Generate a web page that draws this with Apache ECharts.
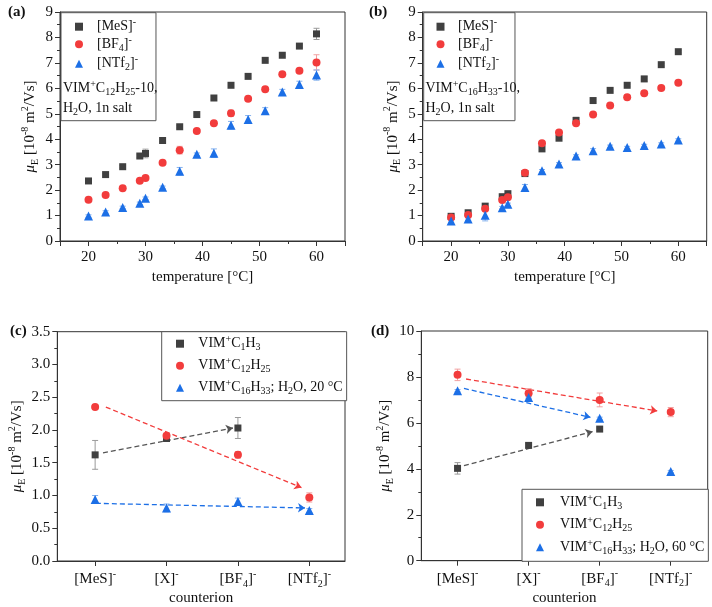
<!DOCTYPE html>
<html><head><meta charset="utf-8">
<script src="https://cdn.jsdelivr.net/npm/echarts@6/dist/echarts.min.js"></script>
<style>html,body{margin:0;padding:0;background:#fff}#c{width:712px;height:607px}</style>
</head><body><div id="c"></div>
<script>
// ---------- data ----------
const temps = [20,23,26,29,30,33,36,39,42,45,48,51,54,57,60];
// panel (a): VIM+C12H25-10
const aMeS  = [2.36,2.61,2.92,3.34,3.44,3.95,4.49,4.97,5.62,6.12,6.47,7.10,7.30,7.66,8.14];
const aBF4  = [1.62,1.81,2.07,2.37,2.48,3.08,3.57,4.32,4.63,5.02,5.59,5.96,6.55,6.69,7.02];
const aNTf2 = [0.98,1.14,1.32,1.48,1.68,2.11,2.74,3.41,3.45,4.55,4.78,5.12,5.86,6.15,6.52];
const aMeSErr  = [0.05,0.05,0.05,0.05,0.17,0.05,0.05,0.05,0.05,0.05,0.05,0.05,0.05,0.05,0.22];
const aBF4Err  = [0.05,0.05,0.05,0.05,0.05,0.05,0.15,0.05,0.05,0.12,0.05,0.05,0.05,0.05,0.30];
const aNTf2Err = [0.05,0.05,0.05,0.05,0.05,0.05,0.15,0.05,0.17,0.15,0.15,0.12,0.10,0.13,0.20];
// panel (b): VIM+C16H33-10
const bMeS  = [0.97,1.11,1.37,1.74,1.86,2.65,3.62,4.04,4.74,5.52,5.92,6.12,6.37,6.93,7.44];
const bBF4  = [0.92,1.02,1.27,1.61,1.72,2.68,3.84,4.26,4.63,4.97,5.33,5.65,5.81,6.01,6.22];
const bNTf2 = [0.79,0.86,1.01,1.31,1.44,2.10,2.76,3.03,3.34,3.55,3.72,3.67,3.75,3.81,3.97];
const bMeSErr  = [0.05,0.06,0.10,0.10,0.05,0.05,0.10,0.05,0.12,0.05,0.05,0.05,0.10,0.05,0.05];
const bBF4Err  = [0.05,0.05,0.05,0.05,0.05,0.08,0.05,0.05,0.05,0.05,0.05,0.05,0.05,0.05,0.05];
const bNTf2Err = [0.05,0.05,0.22,0.05,0.05,0.12,0.05,0.05,0.05,0.08,0.05,0.05,0.05,0.05,0.05];
// panels (c),(d): counterions
const counterions = ['[MeS]', '[X]', '[BF4]', '[NTf2]'];
const counterionPos = [0,1,2,3];
const cC1  = [1.62,1.87,2.03,null];
const cC12 = [2.35,1.91,1.62,0.97];
const cC16 = [0.94,0.81,0.91,0.77];
const cC1Err  = [0.22,0.04,0.16,null];
const cC12Err = [0.03,0.04,0.05,0.07];
const cC16Err = [0.06,0.06,0.05,0.03];
const dC1  = [4.02,5.02,5.73,null];
const dC12 = [8.09,7.29,7.00,6.47];
const dC16 = [7.40,7.10,6.20,3.88];
const dC1Err  = [0.25,0.08,0.05,null];
const dC12Err = [0.25,0.20,0.30,0.20];
const dC16Err = [0.05,0.05,0.05,0.05];
// dashed trend arrows (start, end)
const cTrendC1  = [[0.11,1.65],[1.93,2.03]];
const cTrendC12 = [[0.15,2.35],[2.89,1.12]];
const cTrendC16 = [[0.01,0.88],[2.94,0.81]];
const dTrendC1  = [[0.09,4.14],[1.90,5.62]];
const dTrendC12 = [[0.12,7.91],[2.81,6.52]];
const dTrendC16 = [[0.09,7.50],[1.87,6.24]];

// ---------- style ----------
const FONT = 'Liberation Serif';
const TXT = '#111';
const GRAY = '#404040', RED = '#f23c3c', BLUE = '#1c6fe6';
const EGRAY = '#9a9a9a', ERED = '#f2a0a0', EBLUE = '#86b2ee';
const AX = '#333';

function makeRich(size, spacer) {
  const lh = Math.round(size * 1.3);
  return {
    n:   {fontFamily: FONT, fontSize: size, lineHeight: lh, color: TXT},
    it:  {fontFamily: FONT, fontSize: size, lineHeight: lh, color: TXT, fontStyle: 'italic'},
    sup: {fontFamily: FONT, fontSize: Math.round(size*0.68), lineHeight: Math.round(size*0.68), verticalAlign: 'top', color: TXT},
    sub: {fontFamily: FONT, fontSize: Math.round(size*0.68), lineHeight: Math.round(size*0.68), verticalAlign: 'bottom', color: TXT},
    sp:  {fontFamily: FONT, fontSize: size, lineHeight: lh, width: spacer || 0}
  };
}
const rich14 = makeRich(14), rich15 = makeRich(15);

const yName = '{it|μ}{sub|E}{n| [10}{sup|-8}{n| m}{sup|2}{n|/Vs]}';
const catRich = ['{n|[MeS]}{sup|-}', '{n|[X]}{sup|-}', '{n|[BF}{sub|4}{n|]}{sup|-}', '{n|[NTf}{sub|2}{n|]}{sup|-}'];

const grids = [
  {left: 60,    top: 12,    width: 285,   height: 229},
  {left: 422.7, top: 12,    width: 284,   height: 229},
  {left: 57.3,  top: 331.7, width: 287.7, height: 230},
  {left: 421.3, top: 331,   width: 286.4, height: 229.7}
].map(g => Object.assign(g, {show: true, borderColor: AX, borderWidth: 1, backgroundColor: 'transparent'}));

const baseAxis = {
  axisLine: {show: true, onZero: false, lineStyle: {color: AX, width: 1}},
  axisTick: {show: true, inside: false, length: 5, lineStyle: {color: AX}},
  minorTick: {show: true, splitNumber: 2, length: 3, lineStyle: {color: AX}},
  splitLine: {show: false},
  minorSplitLine: {show: false},
  axisLabel: {fontFamily: FONT, fontSize: 15, color: TXT, margin: 7},
  nameTextStyle: {fontFamily: FONT, fontSize: 15, color: TXT, rich: rich15}
};
function ax(extra) { return Object.assign(JSON.parse(JSON.stringify(baseAxis)), extra); }

const xAxes = [
  ax({type: 'value', gridIndex: 0, min: 15, max: 65, splitNumber: 5, name: 'temperature [°C]', nameLocation: 'middle', nameGap: 29,
      axisLabel: {fontFamily: FONT, fontSize: 15, color: TXT, margin: 9, showMinLabel: false, showMaxLabel: false}}),
  ax({type: 'value', gridIndex: 1, min: 15, max: 65, splitNumber: 5, name: 'temperature [°C]', nameLocation: 'middle', nameGap: 29,
      axisLabel: {fontFamily: FONT, fontSize: 15, color: TXT, margin: 9, showMinLabel: false, showMaxLabel: false}}),
  ax({type: 'value', gridIndex: 2, min: -0.53, max: 3.5, name: 'counterion', nameLocation: 'middle', nameGap: 30,
      axisTick: {show: true, length: 5, lineStyle: {color: AX}, customValues: counterionPos},
      minorTick: {show: false},
      axisLabel: {fontFamily: FONT, fontSize: 15, color: TXT, margin: 8, rich: rich15, customValues: counterionPos,
                  formatter: v => catRich[Math.round(v)]}}),
  ax({type: 'value', gridIndex: 3, min: -0.51, max: 3.52, name: 'counterion', nameLocation: 'middle', nameGap: 30,
      axisTick: {show: true, length: 5, lineStyle: {color: AX}, customValues: counterionPos},
      minorTick: {show: false},
      axisLabel: {fontFamily: FONT, fontSize: 15, color: TXT, margin: 8, rich: rich15, customValues: counterionPos,
                  formatter: v => catRich[Math.round(v)]}})
];
const yAxes = [
  ax({type: 'value', gridIndex: 0, min: 0, max: 9, interval: 1, name: yName, nameLocation: 'middle', nameRotate: 90, nameGap: 20}),
  ax({type: 'value', gridIndex: 1, min: 0, max: 9, interval: 1, name: yName, nameLocation: 'middle', nameRotate: 90, nameGap: 20}),
  ax({type: 'value', gridIndex: 2, min: 0, max: 3.5, interval: 0.5, name: yName, nameLocation: 'middle', nameRotate: 90, nameGap: 30,
      axisLabel: {fontFamily: FONT, fontSize: 15, color: TXT, margin: 7, formatter: v => v.toFixed(1)}}),
  ax({type: 'value', gridIndex: 3, min: 0, max: 10, interval: 2, name: yName, nameLocation: 'middle', nameRotate: 90, nameGap: 23})
];

function errRender(params, api) {
  const x = api.value(0), lo = api.value(1), hi = api.value(2);
  const p1 = api.coord([x, lo]), p2 = api.coord([x, hi]);
  const w = 3;
  const style = {stroke: api.visual('color'), lineWidth: 1};
  return {type: 'group', children: [
    {type: 'line', shape: {x1: p1[0], y1: p1[1], x2: p2[0], y2: p2[1]}, style},
    {type: 'line', shape: {x1: p1[0]-w, y1: p1[1], x2: p1[0]+w, y2: p1[1]}, style},
    {type: 'line', shape: {x1: p2[0]-w, y1: p2[1], x2: p2[0]+w, y2: p2[1]}, style}
  ]};
}
function pairs(xs, ys) { const r = []; xs.forEach((x, i) => { if (ys[i] != null) r.push([x, ys[i]]); }); return r; }
function errs(xs, ys, es) { const r = []; xs.forEach((x, i) => { if (ys[i] != null && es[i] != null) r.push([x, ys[i]-es[i], ys[i]+es[i]]); }); return r; }

const series = [];
const symbolDefs = {
  sq:  {symbol: 'rect', symbolSize: 7, color: GRAY, ecolor: EGRAY},
  ci:  {symbol: 'circle', symbolSize: 8, color: RED, ecolor: ERED},
  tr:  {symbol: 'triangle', symbolSize: 9, color: BLUE, ecolor: EBLUE}
};
function addPanel(idx, xs, sets) {
  sets.forEach(s => {
    const d = symbolDefs[s.kind];
    series.push({type: 'custom', name: 'err' + idx + s.name, xAxisIndex: idx, yAxisIndex: idx, renderItem: errRender,
      itemStyle: {color: d.ecolor}, encode: {x: 0, y: [1, 2]}, data: errs(xs, s.v, s.e), z: 2, silent: true});
  });
  sets.forEach(s => {
    const d = symbolDefs[s.kind];
    series.push({type: 'scatter', name: s.name, xAxisIndex: idx, yAxisIndex: idx, symbol: d.symbol, symbolSize: d.symbolSize,
      itemStyle: {color: d.color, opacity: 1}, data: pairs(xs, s.v), z: 3});
  });
}
addPanel(0, temps, [{name: 'MeS', kind: 'sq', v: aMeS, e: aMeSErr}, {name: 'BF4', kind: 'ci', v: aBF4, e: aBF4Err}, {name: 'NTf2', kind: 'tr', v: aNTf2, e: aNTf2Err}]);
addPanel(1, temps, [{name: 'MeS', kind: 'sq', v: bMeS, e: bMeSErr}, {name: 'BF4', kind: 'ci', v: bBF4, e: bBF4Err}, {name: 'NTf2', kind: 'tr', v: bNTf2, e: bNTf2Err}]);
addPanel(2, counterionPos, [{name: 'C1', kind: 'sq', v: cC1, e: cC1Err}, {name: 'C12', kind: 'ci', v: cC12, e: cC12Err}, {name: 'C16', kind: 'tr', v: cC16, e: cC16Err}]);
addPanel(3, counterionPos, [{name: 'C1', kind: 'sq', v: dC1, e: dC1Err}, {name: 'C12', kind: 'ci', v: dC12, e: dC12Err}, {name: 'C16', kind: 'tr', v: dC16, e: dC16Err}]);

function trend(idx, coords, color) {
  series.push({type: 'lines', name: 'trend' + idx + color, coordinateSystem: 'cartesian2d', xAxisIndex: idx, yAxisIndex: idx,
    symbol: ['none', 'arrow'], symbolSize: 7, silent: true, z: 1,
    lineStyle: {color: color, width: 1.3, type: [5, 3], opacity: 1},
    data: [{coords: coords}]});
}
trend(2, cTrendC1, '#555555'); trend(2, cTrendC12, RED); trend(2, cTrendC16, BLUE);
trend(3, dTrendC1, '#555555'); trend(3, dTrendC12, RED); trend(3, dTrendC16, BLUE);

const anionLabel = {MeS: '{sp| }{n|[MeS]}{sup|-}', BF4: '{sp| }{n|[BF}{sub|4}{n|]}{sup|-}', NTf2: '{sp| }{n|[NTf}{sub|2}{n|]}{sup|-}'};
const cationLabel = (temp) => ({C1: '{sp| }{n|VIM}{sup|+}{n|C}{sub|1}{n|H}{sub|3}', C12: '{sp| }{n|VIM}{sup|+}{n|C}{sub|12}{n|H}{sub|25}',
      C16: '{sp| }{n|VIM}{sup|+}{n|C}{sub|16}{n|H}{sub|33}{n|; H}{sub|2}{n|O, ' + temp + '}'});
const legendBase = {orient: 'vertical', borderColor: '#555', borderWidth: 1, backgroundColor: '#fff', itemHeight: 8, itemWidth: 8,
  selectedMode: false};
function lts(sp) { return {fontFamily: FONT, fontSize: 14, color: TXT, rich: makeRich(14, sp)}; }
const labC = cationLabel('20 °C'), labD = cationLabel('60 °C');
const legends = [
  Object.assign({}, legendBase, {data: ['MeS', 'BF4', 'NTf2'], left: 61, top: 12.7, itemGap: 1.5, textStyle: lts(9),
    padding: [5, 18, 48, 14], formatter: n => anionLabel[n]}),
  Object.assign({}, legendBase, {data: ['MeS', 'BF4', 'NTf2'], left: 423.7, top: 12.7, itemGap: 1.5, textStyle: lts(8.5),
    padding: [5, 16, 48, 12.8], formatter: n => anionLabel[n]}),
  Object.assign({}, legendBase, {data: ['C1', 'C12', 'C16'], left: 161.7, top: 331.7, itemGap: 4, textStyle: lts(9.3),
    padding: [3, 4, 4, 14.3], formatter: n => labC[n]}),
  Object.assign({}, legendBase, {data: ['C1', 'C12', 'C16'], left: 522, top: 489.3, itemGap: 4.5, textStyle: lts(11),
    padding: [4, 4, 5, 14], formatter: n => labD[n]})
];

function label(txt, x, y) {
  return {type: 'text', left: x, top: y, z: 10, style: {text: txt, fontFamily: FONT, fontSize: 15, fontWeight: 'bold', fill: TXT}};
}
function rtext(txt, x, y) {
  return {type: 'text', left: x, top: y, z: 10, style: {text: txt, fontFamily: FONT, fontSize: 14, fill: TXT, rich: rich14}};
}
const graphic = [
  label('(a)', 8, 5), label('(b)', 369, 5), label('(c)', 10, 324), label('(d)', 371, 324),
  rtext('{n|VIM}{sup|+}{n|C}{sub|12}{n|H}{sub|25}{n|-10,}', 63, 79),
  rtext('{n|H}{sub|2}{n|O, 1n salt}', 63, 101),
  rtext('{n|VIM}{sup|+}{n|C}{sub|16}{n|H}{sub|33}{n|-10,}', 425.5, 79),
  rtext('{n|H}{sub|2}{n|O, 1n salt}', 425.5, 101)
];

const chart = echarts.init(document.getElementById('c'), null, {renderer: 'canvas'});
chart.setOption({
  animation: false,
  backgroundColor: '#fff',
  grid: grids, xAxis: xAxes, yAxis: yAxes, legend: legends, series: series, graphic: graphic
});
</script></body></html>
